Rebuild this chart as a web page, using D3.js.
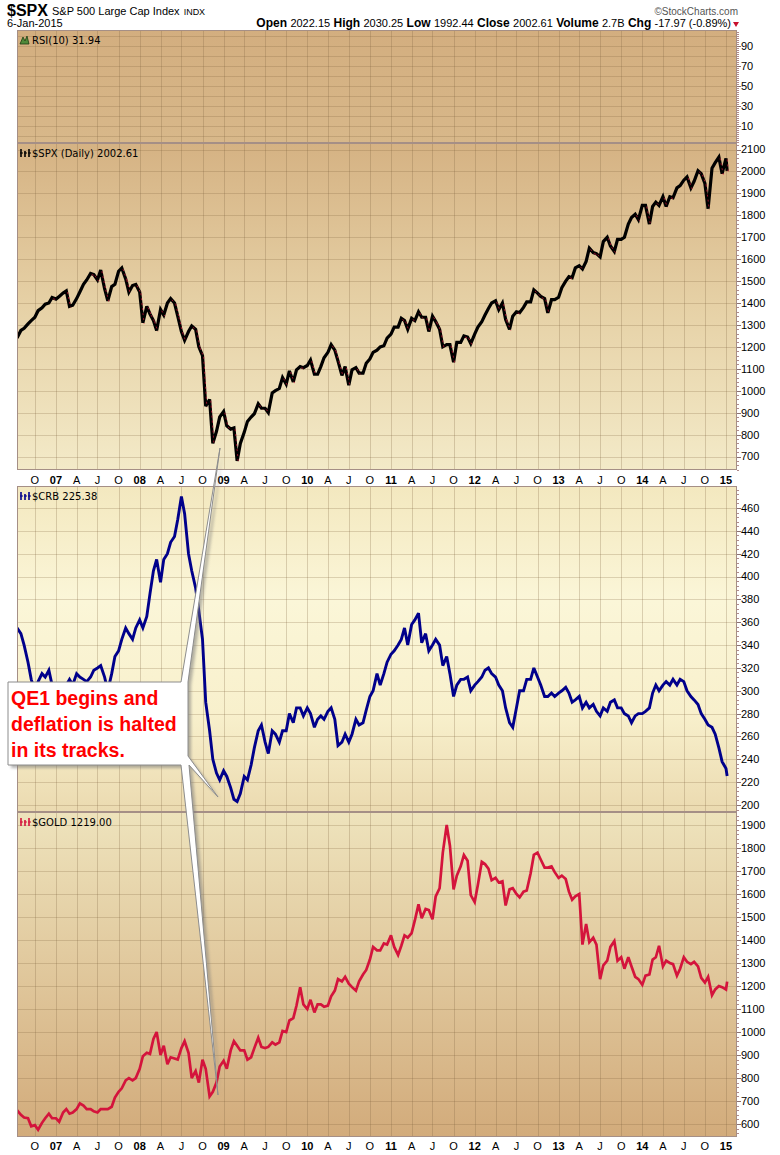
<!DOCTYPE html>
<html><head><meta charset="utf-8">
<script src="https://cdn.jsdelivr.net/npm/d3@7/dist/d3.min.js"></script>
<style>
body{margin:0;background:#fff;}
svg{display:block;font-family:"Liberation Sans",Arial,sans-serif;}
</style></head><body>
<svg id="c" width="780" height="1155"></svg>
<script>
// ---------- DATA (half-monthly readings: 15 Jul 2006, then 1st & 15th of each month, last = 6 Jan 2015) ----------
const spxClose = [
  1240,1275,1285,1305,1320,1335,1365,1378,1395,1400,1425,                       // 2006 (Jul15..Dec15)
  1418,1430,1445,1455,1385,1390,1420,1450,1485,1505,1535,1530,1505,1550,1465,1410,1475,1485,1545,1560,1510,1450,1480,1485, // 2007
  1450,1310,1385,1350,1320,1275,1370,1345,1400,1420,1400,1340,1270,1230,1270,1295,1280,1200,1160,930,960,760,815,880,       // 2008
  905,840,825,830,680,760,810,860,880,895,940,920,920,900,990,1000,1010,1060,1030,1090,1040,1095,1110,1105,                 // 2009
  1115,1140,1075,1075,1110,1150,1175,1210,1185,1135,1070,1110,1025,1095,1105,1080,1080,1125,1145,1175,1185,1200,1205,1240, // 2010
  1258,1290,1290,1330,1320,1280,1330,1320,1360,1335,1335,1270,1340,1315,1280,1200,1210,1210,1130,1220,1220,1250,1245,1215, // 2011
  1258,1290,1315,1345,1375,1400,1410,1370,1400,1325,1280,1340,1360,1356,1380,1405,1405,1460,1445,1430,1420,1355,1415,1415, // 2012
  1426,1470,1500,1520,1515,1560,1570,1555,1590,1650,1630,1625,1610,1680,1700,1660,1635,1690,1690,1700,1760,1790,1805,1780, // 2013
  1845,1845,1760,1840,1860,1845,1885,1840,1885,1880,1925,1935,1960,1975,1925,1955,2003,1990,1945,1830,2015,2040,2065,1990, // 2014
  2060,2002.61                                                                   // 2015
];
const crbClose = [
  355,350,340,325,310,300,308,315,312,318,305,
  300,290,298,305,310,305,315,312,310,308,312,318,320,322,312,300,315,330,335,345,355,350,345,355,
  362,355,365,385,405,415,395,415,420,430,435,450,470,455,420,405,390,370,345,290,265,240,228,222,
  230,225,215,205,203,210,225,222,235,250,265,270,255,245,265,262,255,265,265,280,272,285,285,278,
  285,280,268,275,278,275,282,285,275,252,255,262,255,262,275,270,272,283,295,300,315,305,315,325,
  332,335,340,345,355,340,358,362,368,342,350,335,340,345,340,322,330,315,295,305,310,310,312,300,
  305,308,312,318,320,315,312,305,300,285,272,268,285,300,300,310,310,320,312,305,295,295,298,295,
  298,300,303,298,290,292,295,285,290,285,288,282,278,285,282,290,292,285,285,280,278,272,278,280,
  280,282,285,298,305,300,305,308,305,310,305,310,308,300,295,292,288,280,275,270,268,262,250,238,
  232,225.38
];
const goldClose = [
  660,640,628,625,590,595,575,605,625,645,625,
  625,610,650,665,645,650,665,690,680,665,665,655,650,665,665,665,675,715,740,755,790,800,790,800,
  840,895,910,905,970,1000,900,940,860,890,885,880,930,960,910,800,830,780,880,840,720,740,780,850,
  875,840,920,960,940,920,920,880,890,930,975,935,930,935,955,945,955,1005,1000,1050,1060,1115,1195,1120,
  1100,1140,1085,1120,1120,1110,1115,1155,1180,1230,1220,1240,1210,1195,1180,1220,1250,1270,1315,1370,1355,1355,1385,1380,
  1420,1370,1335,1375,1420,1410,1430,1485,1555,1495,1535,1530,1490,1590,1625,1780,1900,1810,1620,1680,1720,1770,1745,1595,
  1565,1640,1740,1730,1710,1660,1670,1650,1655,1550,1620,1625,1600,1585,1610,1615,1690,1770,1780,1750,1715,1715,1720,1695,
  1670,1680,1665,1610,1575,1590,1600,1380,1470,1390,1410,1380,1230,1290,1310,1370,1395,1310,1325,1275,1325,1285,1240,1230,
  1205,1245,1250,1315,1325,1375,1285,1310,1300,1295,1245,1275,1325,1305,1295,1305,1285,1235,1215,1240,1160,1185,1200,1195,
  1185,1219
];
const rsiTicks  = [10,30,50,70,90];
const spxTicks  = [700,800,900,1000,1100,1200,1300,1400,1500,1600,1700,1800,1900,2000,2100];
const crbTicks  = [200,220,240,260,280,300,320,340,360,380,400,420,440,460];
const goldTicks = [600,700,800,900,1000,1100,1200,1300,1400,1500,1600,1700,1800,1900];
const monthLetters = ["","","","A","","","J","","","O","",""];
const headerStats = [["Open","2022.15"],["High","2030.25"],["Low","1992.44"],["Close","2002.61"],["Volume","2.7B"],["Chg","-17.97 (-0.89%)"]];
const calloutLines = ["QE1 begins and","deflation is halted","in its tracks."];

// ---------- dates for the half-monthly readings ----------
function readingDates(n){
  const out=[new Date(2006,6,15)];
  let y=2006,m=7;
  while(out.length<n-1){ out.push(new Date(y,m,1)); if(out.length<n-1) out.push(new Date(y,m,15)); m++; if(m>11){m=0;y++;} }
  out.push(new Date(2015,0,6));
  return out;
}

// ---------- chart ----------
const svg=d3.select("#c");
const L=17,R=737;
const x=d3.scaleTime().domain([new Date(2006,6,15),new Date(2015,1,18)]).range([L,R]);
const defs=svg.append("defs");
function lin(id,stops){const g=defs.append("linearGradient").attr("id",id).attr("x1",0).attr("y1",0).attr("x2",0).attr("y2",1);stops.forEach(([o,c])=>g.append("stop").attr("offset",o).attr("stop-color",c));}
lin("gRsi",[[0,"#d3ae7f"],[1,"#d8b88a"]]);
lin("gSpx",[[0,"#d5b283"],[0.5,"#e6d1a6"],[1,"#f3eac8"]]);
lin("gCrb",[[0,"#f3e8bf"],[0.35,"#fbf6d8"],[0.7,"#f8f0cc"],[1,"#ebdab0"]]);
lin("gGold",[[0,"#eee3bc"],[1,"#d2ab7b"]]);
const sh=defs.append("filter").attr("id","shadow").attr("x","-20%").attr("y","-20%").attr("width","140%").attr("height","140%");
sh.append("feGaussianBlur").attr("stdDeviation",1.6);

const panels=[
  {id:"rsi",top:30,bottom:143,y:d3.scaleLinear().domain([90,10]).range([46,126]),ticks:rsiTicks,grid:10,minor:2,fill:"url(#gRsi)",label:"RSI(10) 31.94",icon:"rsi"},
  {id:"spx",top:143,bottom:470,y:d3.scaleLinear().domain([2100,700]).range([149.5,456.5]),ticks:spxTicks,grid:100,minor:20,fill:"url(#gSpx)",label:"$SPX (Daily) 2002.61",icon:"#000",data:spxClose,color:"#000",sw:3.2},
  {id:"crb",top:486,bottom:812,y:d3.scaleLinear().domain([460,200]).range([508,805]),ticks:crbTicks,grid:20,minor:4,fill:"url(#gCrb)",label:"$CRB 225.38",icon:"#00008b",data:crbClose,color:"#00008b",sw:2.9},
  {id:"gold",top:812,bottom:1137,y:d3.scaleLinear().domain([1900,600]).range([825,1124]),ticks:goldTicks,grid:100,minor:20,fill:"url(#gGold)",label:"$GOLD 1219.00",icon:"#d4143c",data:goldClose,color:"#d4143c",sw:2.7}
];
const quarters=d3.timeMonth.every(3).range(x.invert(L+1),x.invert(R));

panels.forEach(p=>{
  const g=svg.append("g");
  g.append("rect").attr("x",L).attr("y",p.top).attr("width",R-L).attr("height",p.bottom-p.top).attr("fill",p.fill);
  defs.append("clipPath").attr("id","cl-"+p.id).append("rect").attr("x",L).attr("y",p.top).attr("width",R-L).attr("height",p.bottom-p.top);
  const lo=p.y.invert(p.bottom),hi=p.y.invert(p.top);
  const gv=d3.range(Math.ceil(lo/p.grid)*p.grid,hi,p.grid);
  g.selectAll(".h").data(gv).join("line").attr("x1",L).attr("x2",R).attr("y1",d=>Math.round(p.y(d))+0.5).attr("y2",d=>Math.round(p.y(d))+0.5)
    .attr("stroke","rgba(125,95,60,0.24)");
  g.selectAll(".v").data(quarters).join("line").attr("y1",p.top).attr("y2",p.bottom).attr("x1",d=>Math.round(x(d))+0.5).attr("x2",d=>Math.round(x(d))+0.5)
    .attr("stroke","rgba(125,95,60,0.26)");
  if(p.data){
    const dates=readingDates(p.data.length);
    const line=d3.line().x((d,i)=>x(dates[i])).y(d=>p.y(d)).curve(d3.curveLinear);
    g.append("path").attr("clip-path","url(#cl-"+p.id+")").attr("d",line(p.data)).attr("fill","none")
      .attr("stroke",p.color).attr("stroke-width",p.sw).attr("stroke-linejoin","miter").attr("stroke-miterlimit",3);
    if(p.id==="spx"){
      const down=p.data.map((v,i)=>i>0&&v<p.data[i-1]?[[x(dates[i-1]),p.y(p.data[i-1])],[x(dates[i]),p.y(v)]]:null).filter(Boolean);
      g.selectAll(".dn").data(down).join("line").attr("x1",d=>d[0][0]+1.2).attr("y1",d=>d[0][1]+1.2).attr("x2",d=>d[1][0]+1.2).attr("y2",d=>d[1][1]+1.2)
        .attr("stroke","#d4143c").attr("stroke-width",0.8).attr("stroke-dasharray","2 3").attr("opacity",0.9);
    }
  }
  g.append("rect").attr("x",L+0.5).attr("y",p.top+0.5).attr("width",R-L-1).attr("height",p.bottom-p.top-1).attr("fill","none").attr("stroke","#a58f86");
  // right axis ticks
  const mv=d3.range(Math.ceil(lo/p.minor)*p.minor,hi,p.minor);
  g.selectAll(".mt").data(mv).join("line").attr("x1",R).attr("x2",R+2).attr("y1",d=>Math.round(p.y(d))+0.5).attr("y2",d=>Math.round(p.y(d))+0.5).attr("stroke","#b08a8a");
  g.selectAll(".Mt").data(p.ticks).join("line").attr("x1",R).attr("x2",R+4).attr("y1",d=>Math.round(p.y(d))+0.5).attr("y2",d=>Math.round(p.y(d))+0.5).attr("stroke","#8a7070");
  g.selectAll(".tl").data(p.ticks).join("text").attr("x",R+4).attr("y",d=>p.y(d)).attr("dy","0.36em")
    .attr("font-size",11).attr("fill","#000").text(d=>d);
  // label + icon
  const lg=g.append("g").attr("transform",`translate(20,${p.top+6})`);
  if(p.icon==="rsi"){
    lg.append("path").attr("d","M0,8 L3,1 L5,5 L7,0 L9,8 Z").attr("fill","#4f8a3a").attr("stroke","#1d3d12").attr("stroke-width",0.8);
  } else {
    [0,4,8].forEach((dx,k)=>{lg.append("line").attr("x1",dx+1).attr("x2",dx+1).attr("y1",k===1?2:0).attr("y2",8).attr("stroke",p.icon).attr("stroke-width",1.6);
      lg.append("line").attr("x1",dx).attr("x2",dx+3).attr("y1",4).attr("y2",4).attr("stroke",p.icon).attr("stroke-width",1);});
  }
  lg.append("text").attr("x",12).attr("y",8).attr("font-family","'DejaVu Sans',Verdana,sans-serif").attr("font-size",10).attr("fill","#000").text(p.label);
});

// x axes
[484,1150].forEach(yb=>{
  svg.append("g").selectAll("text").data(quarters).join("text")
    .attr("x",d=>x(d)).attr("y",yb).attr("text-anchor","middle").attr("font-size",11)
    .attr("font-weight",d=>d.getMonth()===0?"bold":"normal")
    .text(d=>d.getMonth()===0?d3.timeFormat("%y")(d):monthLetters[d.getMonth()]);
});

// header
const hd=svg.append("g");
hd.append("text").attr("x",7).attr("y",16).attr("font-size",16).attr("font-weight","bold").text("$SPX");
const nm=hd.append("text").attr("x",52).attr("y",15).attr("font-size",11).text("S&P 500 Large Cap Index");
hd.append("text").attr("x",52+nm.node().getComputedTextLength()+4).attr("y",15).attr("font-size",9).text("INDX");
hd.append("text").attr("x",7).attr("y",27).attr("font-size",11).text("6-Jan-2015");
hd.append("text").attr("x",738).attr("y",15).attr("text-anchor","end").attr("font-size",10).attr("fill","#555").text("©StockCharts.com");
const st=hd.append("text").attr("x",731).attr("y",27).attr("text-anchor","end").attr("font-size",12);
headerStats.forEach(([k,v],i)=>{st.append("tspan").attr("font-weight","bold").text((i?"  ":"")+k+" ");st.append("tspan").attr("font-size",11).text(v);});
hd.append("path").attr("d","M733,22 L739,22 L736,27 Z").attr("fill","#c8102e");

// callout
const box={l:8,t:682,r:188,b:765};
const tipSpx=[220,448],tipCrb=[218,797],tipGold=[218,1095];
const cp=`M${box.l},${box.t} H181 L${tipSpx[0]},${tipSpx[1]} L${box.r},${box.t} V756 L${tipCrb[0]},${tipCrb[1]} L189,${box.b} L${tipGold[0]},${tipGold[1]} L181,${box.b} H${box.l} Z`;
svg.append("path").attr("d",cp).attr("transform","translate(3,3)").attr("fill","#777").attr("opacity",0.55).attr("filter","url(#shadow)");
svg.append("path").attr("d",cp).attr("fill","#fff").attr("stroke","#8c8c8c").attr("stroke-width",1).attr("stroke-linejoin","miter").attr("stroke-miterlimit",40);
svg.append("g").selectAll("text").data(calloutLines).join("text")
  .attr("x",11).attr("y",(d,i)=>705+i*26).attr("font-size",19.5).attr("font-weight","bold").attr("fill","#f00").text(d=>d);
</script>
</body></html>
